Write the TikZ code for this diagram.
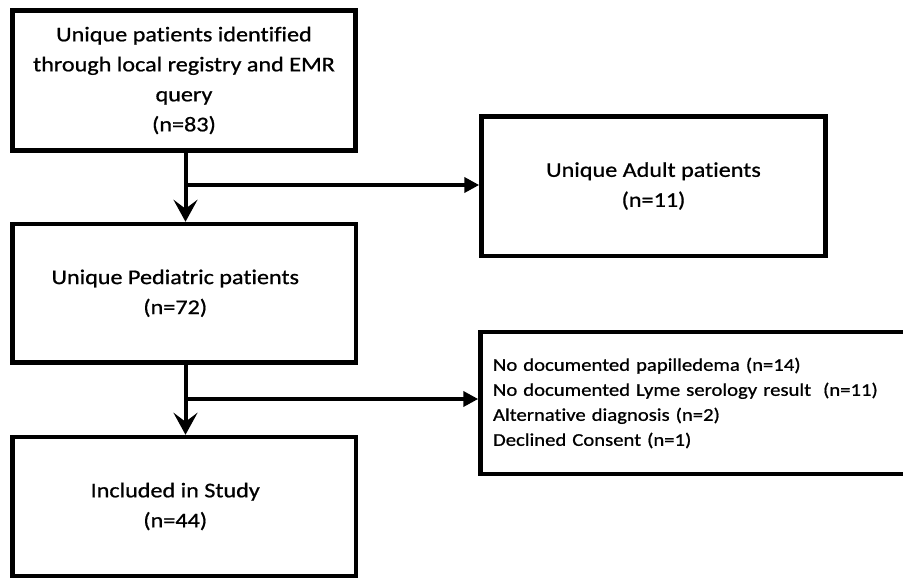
\documentclass[tikz,border=0pt]{standalone}
\usepackage{fontspec}
\setmainfont{Carlito}[FakeStretch=1.15, FakeBold=0.8, Ligatures=NoCommon]
\usetikzlibrary{arrows.meta}
\begin{document}
\begin{tikzpicture}[x=1pt,y=-1pt,
  box/.style={draw, line width=4.5pt, rectangle, align=center, inner sep=0pt,
    font=\fontsize{21}{30}\selectfont},
  listbox/.style={draw, line width=4.5pt, rectangle, align=left, inner ysep=0pt,
    inner xsep=12.5pt, text width=414.5pt, font=\fontsize{18}{25}\selectfont},
  conn/.style={line width=4pt},
  downarr/.style={conn, -{Stealth[length=22pt,width=24pt,inset=9pt]}},
  rightarr/.style={conn, -{Triangle[length=15pt,width=15pt]}}
]
\useasboundingbox (0,0) rectangle (903,581);
\clip (0,0) rectangle (903,581);
\node[box, minimum width=343pt, minimum height=140pt] (B1) at (184,80.5)
  {Unique patients identified\\through local registry and EMR\\query\\(n=83)};
\node[box, minimum width=344pt, minimum height=139.5pt] (B2) at (653.5,186)
  {Unique Adult patients\\(n=11)};
\node[box, minimum width=343.5pt, minimum height=138.5pt] (B3) at (184.25,293.25)
  {Unique Pediatric patients\hspace*{18pt}\\(n=72)\hspace*{18pt}};
\node[box, minimum width=343.5pt, minimum height=139pt] (B4) at (184.25,506.5)
  {Included in Study\hspace*{18pt}\\(n=44)\hspace*{18pt}};
\node[listbox, minimum height=142pt] (B5) at (700.25,403)
  {No documented papilledema (n=14)\\
   No documented Lyme serology result\ \ (n=11)\\
   Alternative diagnosis (n=2)\\
   Declined Consent (n=1)};
\coordinate (J1) at (185.5,185);
\coordinate (J2) at (185.5,399);
\draw[downarr] (B1.south -| J1) -- (B3.north -| J1);
\draw[rightarr] (J1) -- (B2.west |- J1);
\draw[downarr] (B3.south -| J2) -- (B4.north -| J2);
\draw[rightarr] (J2) -- (B5.west |- J2);
\end{tikzpicture}
\end{document}
